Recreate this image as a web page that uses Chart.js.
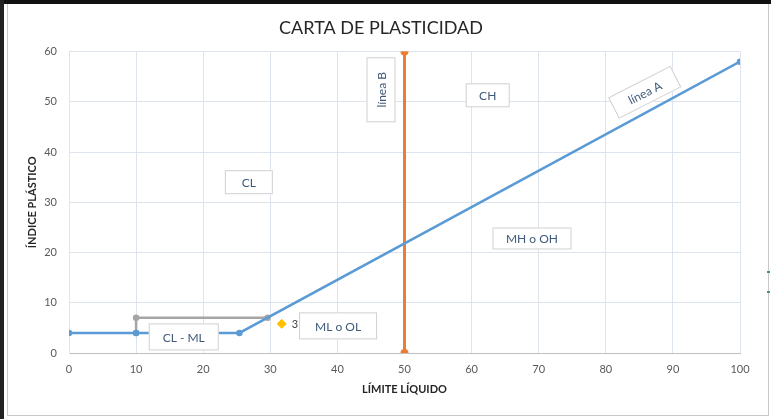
<!DOCTYPE html>
<html>
<head>
<meta charset="utf-8">
<script src="https://cdn.jsdelivr.net/npm/chart.js@4.4.1/dist/chart.umd.min.js"></script>
<style>
    html, body { margin: 0; padding: 0; background: #ffffff; }
    #wrap { position: relative; width: 771px; height: 419px; overflow: hidden; }
    .frame { position: absolute; }
    canvas { position: absolute; left: 0; top: 0; z-index: 2; }
</style>
</head>
<body>
<div id="wrap">
    <div class="frame" style="left:0;top:0;width:771px;height:4px;background:#111;"></div>
    <div class="frame" style="left:0;top:0;width:4px;height:419px;background:#222;"></div>
    <div class="frame" style="left:7px;top:4px;width:760px;height:411px;border:1px solid #c8c8c8;border-top:none;"></div>
    <div class="frame" style="left:767px;top:271px;width:3px;height:2px;background:#4a8f8f;"></div>
    <div class="frame" style="left:767px;top:291px;width:3px;height:2px;background:#4a8f8f;"></div>
    <canvas id="diagram" width="771" height="419"></canvas>
</div>
<script>
const lineaAX = [0, 10, 25.4, 100];
const lineaAY = [4, 4, 4, 58];
const clmlX = [10, 10, 29.6];
const clmlY = [4, 7, 7];
const lineaBX = [50, 50];
const lineaBY = [0, 60];
const muestraX = [31.7];
const muestraY = [5.8];
const muestraLabel = ['3'];

// Etiquetas de zonas (en unidades de los ejes)
const zonaTextos = ['CL', 'CL - ML', 'ML o OL', 'CH', 'MH o OH', 'línea B', 'línea A'];
const zonaX = [26.8, 17.1, 40.1, 62.4, 69.0, 46.5, 85.8];
const zonaY = [34.0, 3.2, 5.4, 51.3, 22.8, 52.4, 51.9];

const toPoints = (xs, ys) => xs.map((x, i) => ({ x: x, y: ys[i] }));

// Tamaño y giro de cada caja de texto
const zonaEstilo = [
    { w: 48, h: 24, rot: 0 },
    { w: 70, h: 27, rot: 0 },
    { w: 78, h: 27, rot: 0 },
    { w: 44, h: 24, rot: 0 },
    { w: 79, h: 22, rot: 0 },
    { w: 65, h: 29, rot: -Math.PI / 2 },
    { w: 70, h: 24, rot: -27 * Math.PI / 180 }
];

const boxesPlugin = {
    id: 'boxes',
    afterDatasetsDraw(chart) {
        const ctx = chart.ctx;
        const xs = chart.scales.x, ys = chart.scales.y;
        ctx.save();
        zonaTextos.forEach((t, i) => {
            const cx = xs.getPixelForValue(zonaX[i]);
            const cy = ys.getPixelForValue(zonaY[i]);
            const st = zonaEstilo[i];
            ctx.save();
            ctx.translate(cx, cy);
            ctx.rotate(st.rot);
            ctx.fillStyle = '#ffffff';
            ctx.fillRect(-st.w / 2, -st.h / 2, st.w, st.h);
            ctx.strokeStyle = '#d0d0d0';
            ctx.lineWidth = 1;
            ctx.strokeRect(-st.w / 2 + 0.5, -st.h / 2 + 0.5, st.w - 1, st.h - 1);
            ctx.fillStyle = '#3f5a7a';
            ctx.font = '12px Lato';
            ctx.textAlign = 'center';
            ctx.textBaseline = 'middle';
            ctx.fillText(t, 0, 1);
            ctx.restore();
        });
        // etiqueta del punto amarillo
        const meta = chart.getDatasetMeta(3);
        meta.data.forEach((pt, i) => {
            ctx.fillStyle = '#404040';
            ctx.font = '11px Lato';
            ctx.textAlign = 'left';
            ctx.textBaseline = 'middle';
            ctx.fillText(muestraLabel[i], pt.x + 10, pt.y + 1);
        });
        ctx.restore();
    }
};

const ctx = document.getElementById('diagram').getContext('2d');

new Chart(ctx, {
    type: 'scatter',
    data: {
        datasets: [
            {
                label: 'línea A',
                data: toPoints(lineaAX, lineaAY),
                showLine: true,
                borderColor: '#5b9bd5',
                backgroundColor: '#5b9bd5',
                borderWidth: 2.5,
                pointRadius: 2
            },
            {
                label: 'CL-ML',
                data: toPoints(clmlX, clmlY),
                showLine: true,
                borderColor: '#a5a5a5',
                backgroundColor: '#a5a5a5',
                borderWidth: 2.5,
                pointRadius: 2
            },
            {
                label: 'línea B',
                data: toPoints(lineaBX, lineaBY),
                showLine: true,
                borderColor: '#ed7d31',
                backgroundColor: '#ed7d31',
                borderWidth: 3,
                pointRadius: 2.5
            },
            {
                label: 'muestra',
                data: toPoints(muestraX, muestraY),
                showLine: false,
                backgroundColor: '#ffc000',
                borderColor: '#ffc000',
                pointStyle: 'rectRot',
                pointRadius: 4.5
            }
        ]
    },
    options: {
        responsive: false,
        animation: false,
        layout: { padding: { left: 22, right: 31, top: 0, bottom: 20 } },
        plugins: {
            legend: { display: false },
            tooltip: { enabled: false },
            title: {
                display: true,
                text: 'CARTA DE PLASTICIDAD',
                color: '#262626',
                font: { family: 'Lato', size: 18, weight: 'normal' },
                padding: { top: 17, bottom: 13 }
            }
        },
        scales: {
            x: {
                type: 'linear',
                min: 0,
                max: 100,
                ticks: { stepSize: 10, color: '#595959', font: { family: 'Lato', size: 11 }, padding: 10 },
                grid: { color: '#dde4ee', drawTicks: false },
                border: { color: '#bfbfbf', width: 1 },
                title: {
                    display: true,
                    text: 'LÍMITE LÍQUIDO',
                    color: '#262626',
                    font: { family: 'Lato', size: 11, weight: 'bold' },
                    padding: { top: 4, bottom: 3 }
                },
                afterFit(scale) { scale.height = 46; }
            },
            y: {
                type: 'linear',
                min: 0,
                max: 60,
                ticks: { stepSize: 10, color: '#595959', font: { family: 'Lato', size: 11 }, padding: 12 },
                grid: { color: '#dde4ee', drawTicks: false },
                border: { color: '#dde4ee' },
                title: {
                    display: true,
                    text: 'ÍNDICE PLÁSTICO',
                    color: '#262626',
                    font: { family: 'Lato', size: 11, weight: 'bold' },
                    padding: { top: 4, bottom: 4 }
                },
                afterFit(scale) { scale.width = 47; }
            }
        }
    },
    plugins: [boxesPlugin]
});
</script>
</body>
</html>
